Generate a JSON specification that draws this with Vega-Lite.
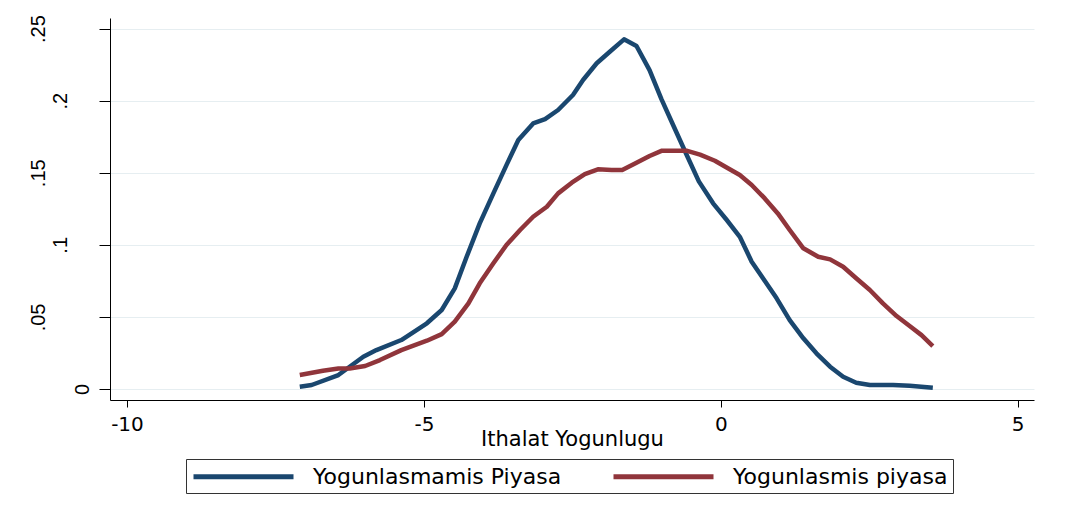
{
  "$schema": "https://vega.github.io/schema/vega-lite/v6.json",
  "width": 924,
  "height": 382,
  "autosize": {"type": "none"},
  "padding": {"left": 110, "top": 18, "right": 33, "bottom": 119},
  "background": "white",
  "config": {"view": {"stroke": null}, "font": "DejaVu Sans"},
  "data": {
    "values": [
      {"group": "Yogunlasmamis Piyasa", "x": -7.09, "y": 0.0016},
      {"group": "Yogunlasmamis Piyasa", "x": -6.89, "y": 0.0028},
      {"group": "Yogunlasmamis Piyasa", "x": -6.44, "y": 0.0097},
      {"group": "Yogunlasmamis Piyasa", "x": -6.02, "y": 0.0224},
      {"group": "Yogunlasmamis Piyasa", "x": -5.80, "y": 0.0270},
      {"group": "Yogunlasmamis Piyasa", "x": -5.38, "y": 0.0340},
      {"group": "Yogunlasmamis Piyasa", "x": -4.95, "y": 0.0456},
      {"group": "Yogunlasmamis Piyasa", "x": -4.70, "y": 0.0548},
      {"group": "Yogunlasmamis Piyasa", "x": -4.48, "y": 0.0698},
      {"group": "Yogunlasmamis Piyasa", "x": -4.28, "y": 0.0917},
      {"group": "Yogunlasmamis Piyasa", "x": -4.06, "y": 0.1149},
      {"group": "Yogunlasmamis Piyasa", "x": -3.83, "y": 0.1357},
      {"group": "Yogunlasmamis Piyasa", "x": -3.61, "y": 0.1553},
      {"group": "Yogunlasmamis Piyasa", "x": -3.41, "y": 0.1727},
      {"group": "Yogunlasmamis Piyasa", "x": -3.16, "y": 0.1842},
      {"group": "Yogunlasmamis Piyasa", "x": -2.96, "y": 0.1872},
      {"group": "Yogunlasmamis Piyasa", "x": -2.74, "y": 0.1935},
      {"group": "Yogunlasmamis Piyasa", "x": -2.49, "y": 0.2039},
      {"group": "Yogunlasmamis Piyasa", "x": -2.32, "y": 0.2143},
      {"group": "Yogunlasmamis Piyasa", "x": -2.09, "y": 0.2259},
      {"group": "Yogunlasmamis Piyasa", "x": -1.87, "y": 0.2339},
      {"group": "Yogunlasmamis Piyasa", "x": -1.63, "y": 0.2425},
      {"group": "Yogunlasmamis Piyasa", "x": -1.42, "y": 0.2379},
      {"group": "Yogunlasmamis Piyasa", "x": -1.20, "y": 0.2212},
      {"group": "Yogunlasmamis Piyasa", "x": -1.00, "y": 0.2010},
      {"group": "Yogunlasmamis Piyasa", "x": -0.79, "y": 0.1819},
      {"group": "Yogunlasmamis Piyasa", "x": -0.58, "y": 0.1628},
      {"group": "Yogunlasmamis Piyasa", "x": -0.37, "y": 0.1440},
      {"group": "Yogunlasmamis Piyasa", "x": -0.13, "y": 0.1288},
      {"group": "Yogunlasmamis Piyasa", "x": 0.10, "y": 0.1172},
      {"group": "Yogunlasmamis Piyasa", "x": 0.32, "y": 0.1056},
      {"group": "Yogunlasmamis Piyasa", "x": 0.52, "y": 0.0883},
      {"group": "Yogunlasmamis Piyasa", "x": 0.71, "y": 0.0768},
      {"group": "Yogunlasmamis Piyasa", "x": 0.94, "y": 0.0629},
      {"group": "Yogunlasmamis Piyasa", "x": 1.16, "y": 0.0478},
      {"group": "Yogunlasmamis Piyasa", "x": 1.39, "y": 0.0352},
      {"group": "Yogunlasmamis Piyasa", "x": 1.61, "y": 0.0248},
      {"group": "Yogunlasmamis Piyasa", "x": 1.84, "y": 0.0155},
      {"group": "Yogunlasmamis Piyasa", "x": 2.06, "y": 0.0085},
      {"group": "Yogunlasmamis Piyasa", "x": 2.28, "y": 0.0044},
      {"group": "Yogunlasmamis Piyasa", "x": 2.51, "y": 0.0028},
      {"group": "Yogunlasmamis Piyasa", "x": 2.90, "y": 0.0028},
      {"group": "Yogunlasmamis Piyasa", "x": 3.18, "y": 0.0023},
      {"group": "Yogunlasmamis Piyasa", "x": 3.57, "y": 0.0009},
      {"group": "Yogunlasmis piyasa", "x": -7.09, "y": 0.0097},
      {"group": "Yogunlasmis piyasa", "x": -6.70, "y": 0.0127},
      {"group": "Yogunlasmis piyasa", "x": -6.44, "y": 0.0143},
      {"group": "Yogunlasmis piyasa", "x": -6.25, "y": 0.0143},
      {"group": "Yogunlasmis piyasa", "x": -5.99, "y": 0.0160},
      {"group": "Yogunlasmis piyasa", "x": -5.74, "y": 0.0201},
      {"group": "Yogunlasmis piyasa", "x": -5.38, "y": 0.0270},
      {"group": "Yogunlasmis piyasa", "x": -4.95, "y": 0.0335},
      {"group": "Yogunlasmis piyasa", "x": -4.70, "y": 0.0381},
      {"group": "Yogunlasmis piyasa", "x": -4.48, "y": 0.0467},
      {"group": "Yogunlasmis piyasa", "x": -4.25, "y": 0.0594},
      {"group": "Yogunlasmis piyasa", "x": -4.06, "y": 0.0733},
      {"group": "Yogunlasmis piyasa", "x": -3.83, "y": 0.0872},
      {"group": "Yogunlasmis piyasa", "x": -3.61, "y": 0.0999},
      {"group": "Yogunlasmis piyasa", "x": -3.38, "y": 0.1103},
      {"group": "Yogunlasmis piyasa", "x": -3.16, "y": 0.1195},
      {"group": "Yogunlasmis piyasa", "x": -2.93, "y": 0.1264},
      {"group": "Yogunlasmis piyasa", "x": -2.74, "y": 0.1357},
      {"group": "Yogunlasmis piyasa", "x": -2.51, "y": 0.1431},
      {"group": "Yogunlasmis piyasa", "x": -2.29, "y": 0.1491},
      {"group": "Yogunlasmis piyasa", "x": -2.07, "y": 0.1524},
      {"group": "Yogunlasmis piyasa", "x": -1.84, "y": 0.1519},
      {"group": "Yogunlasmis piyasa", "x": -1.66, "y": 0.1519},
      {"group": "Yogunlasmis piyasa", "x": -1.42, "y": 0.1569},
      {"group": "Yogunlasmis piyasa", "x": -1.20, "y": 0.1616},
      {"group": "Yogunlasmis piyasa", "x": -0.99, "y": 0.1653},
      {"group": "Yogunlasmis piyasa", "x": -0.58, "y": 0.1653},
      {"group": "Yogunlasmis piyasa", "x": -0.35, "y": 0.1625},
      {"group": "Yogunlasmis piyasa", "x": -0.10, "y": 0.1583},
      {"group": "Yogunlasmis piyasa", "x": 0.12, "y": 0.1531},
      {"group": "Yogunlasmis piyasa", "x": 0.32, "y": 0.1484},
      {"group": "Yogunlasmis piyasa", "x": 0.52, "y": 0.1415},
      {"group": "Yogunlasmis piyasa", "x": 0.74, "y": 0.1322},
      {"group": "Yogunlasmis piyasa", "x": 0.96, "y": 0.1218},
      {"group": "Yogunlasmis piyasa", "x": 1.16, "y": 0.1103},
      {"group": "Yogunlasmis piyasa", "x": 1.39, "y": 0.0976},
      {"group": "Yogunlasmis piyasa", "x": 1.64, "y": 0.0917},
      {"group": "Yogunlasmis piyasa", "x": 1.84, "y": 0.0899},
      {"group": "Yogunlasmis piyasa", "x": 2.06, "y": 0.0848},
      {"group": "Yogunlasmis piyasa", "x": 2.28, "y": 0.0768},
      {"group": "Yogunlasmis piyasa", "x": 2.51, "y": 0.0687},
      {"group": "Yogunlasmis piyasa", "x": 2.73, "y": 0.0594},
      {"group": "Yogunlasmis piyasa", "x": 2.96, "y": 0.0506},
      {"group": "Yogunlasmis piyasa", "x": 3.18, "y": 0.0437},
      {"group": "Yogunlasmis piyasa", "x": 3.38, "y": 0.0374},
      {"group": "Yogunlasmis piyasa", "x": 3.57, "y": 0.0298}
    ]
  },
  "mark": {"type": "line", "strokeWidth": 4.5, "strokeCap": "butt", "strokeJoin": "round"},
  "encoding": {
    "x": {
      "field": "x",
      "type": "quantitative",
      "scale": {"domain": [-10.286, 5.274], "nice": false, "zero": false},
      "axis": {
        "values": [-10, -5, 0, 5],
        "labelExpr": "'' + datum.value",
        "title": "Ithalat Yogunlugu",
        "grid": false,
        "domainColor": "#000",
        "domainWidth": 1,
        "tickColor": "#000",
        "tickSize": 7,
        "labelPadding": 7,
        "labelFlush": false,
        "labelOverlap": false,
        "labelFont": "DejaVu Sans",
        "labelFontSize": 20,
        "labelColor": "#000",
        "titleFont": "DejaVu Sans",
        "titleFontSize": 21,
        "titleFontWeight": "normal",
        "titleColor": "#000",
        "titleBaseline": "alphabetic",
        "titleY": 45
      }
    },
    "y": {
      "field": "y",
      "type": "quantitative",
      "scale": {"domain": [-0.0076, 0.2573], "nice": false, "zero": false},
      "axis": {
        "values": [0, 0.05, 0.1, 0.15, 0.2, 0.25],
        "format": ".2~f",
        "labelExpr": "replace(datum.label, '0.', '.')",
        "title": null,
        "grid": true,
        "gridColor": "#e6eef1",
        "gridWidth": 1,
        "domainColor": "#000",
        "domainWidth": 1,
        "tickColor": "#000",
        "tickSize": 11,
        "labelAngle": -90,
        "labelAlign": "center",
        "labelBaseline": "alphabetic",
        "labelPadding": {
          "condition": [
            {"test": "length(datum.label) == 1", "value": 11},
            {"test": "length(datum.label) == 3", "value": 33}
          ],
          "value": 55
        },
        "labelOverlap": false,
        "labelFont": "Liberation Sans",
        "labelFontSize": 20,
        "labelColor": "#000"
      }
    },
    "color": {
      "field": "group",
      "type": "nominal",
      "scale": {
        "domain": ["Yogunlasmamis Piyasa", "Yogunlasmis piyasa"],
        "range": ["#1a476f", "#90353b"]
      },
      "legend": {
        "orient": "none",
        "legendX": 76,
        "legendY": 441,
        "direction": "horizontal",
        "title": null,
        "symbolType": "M-1,0H9",
        "symbolSize": 400,
        "symbolStrokeWidth": 5,
        "symbolFillColor": "transparent",
        "labelFont": "DejaVu Sans",
        "labelFontSize": 22,
        "labelColor": "#000",
        "labelOffset": 97,
        "labelLimit": 400,
        "columnPadding": 41,
        "padding": 5,
        "strokeColor": "#333",
        "fillColor": "white"
      }
    }
  }
}
